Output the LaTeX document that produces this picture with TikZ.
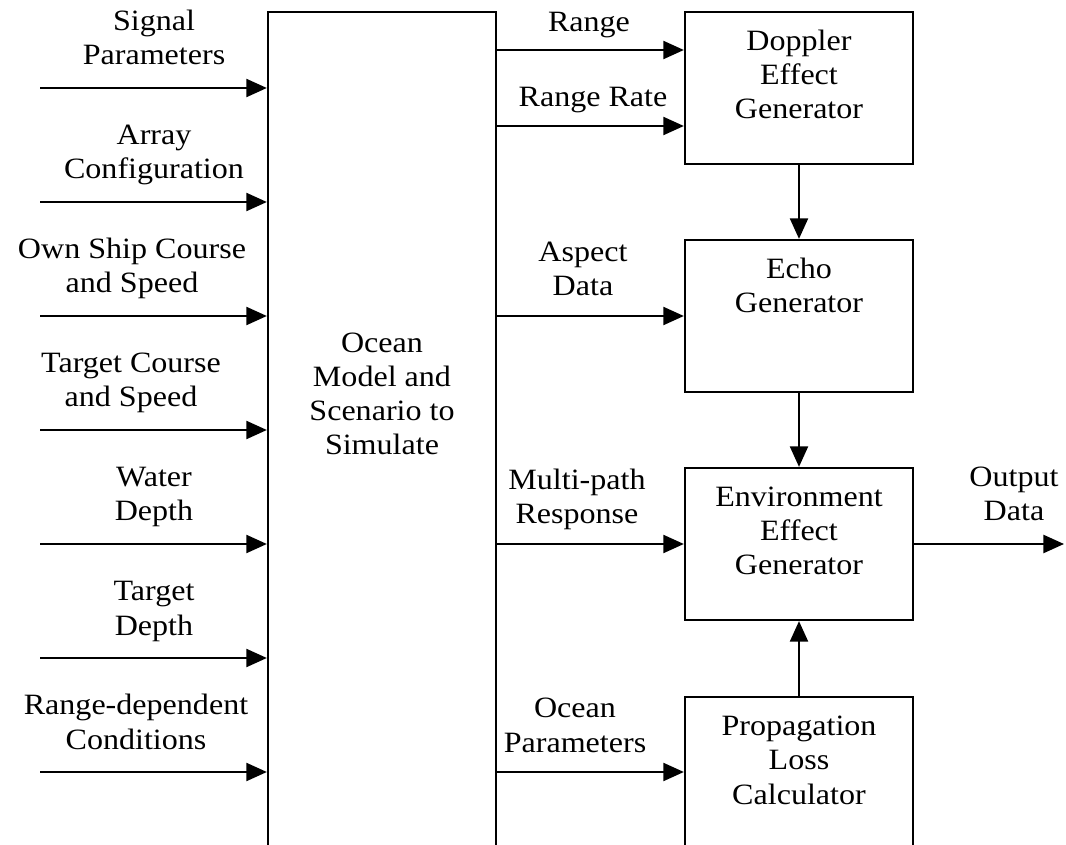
\documentclass[tikz,border=0pt]{standalone}
\usepackage{fontspec}
\setmainfont{Liberation Serif}
\usetikzlibrary{arrows.meta}

\begin{document}
\begin{tikzpicture}[x=0.0137cm, y=-0.0137cm]
    % Define styles
    \tikzstyle{block} = [rectangle, draw=black, line width=0.9pt, minimum width=3.124cm, inner sep=0pt]
    \tikzstyle{txt} = [align=center, anchor=base, inner sep=0pt, xscale=1.087, font=\fontsize{11.5}{13.3}\selectfont]
    \tikzstyle{arr} = [line width=0.9pt, -{Triangle[length=8pt, width=7pt]}]

    \useasboundingbox (0,0) rectangle (1066,845);
    \clip (0,0) rectangle (1066,845);

    % Blocks
    \node[block, minimum height=12.17cm] (model) at (382,456) {};
    \node[block, minimum height=2.082cm] (dop) at (799,88) {};
    \node[block, minimum height=2.082cm] (echo) at (799,316) {};
    \node[block, minimum height=2.082cm] (env) at (799,544) {};
    \node[block, minimum height=3.124cm] (prop) at (799,811) {};

    % Block texts
    \node[txt] (modeltxt) at (382,455) {Ocean\\Model and\\Scenario to\\Simulate};
    \node[txt] (doptxt) at (799,119) {Doppler\\Effect\\Generator};
    \node[txt] (echotxt) at (799,313) {Echo\\Generator};
    \node[txt] (envtxt) at (799,575) {Environment\\Effect\\Generator};
    \node[txt] (proptxt) at (799,804) {Propagation\\Loss\\Calculator};

    % Inputs
    \coordinate (in1) at (40,88);
    \coordinate (in2) at (40,202);
    \coordinate (in3) at (40,316);
    \coordinate (in4) at (40,430);
    \coordinate (in5) at (40,544);
    \coordinate (in6) at (40,658);
    \coordinate (in7) at (40,772);
    \draw[arr] (in1) -- (in1 -| model.west);
    \draw[arr] (in2) -- (in2 -| model.west);
    \draw[arr] (in3) -- (in3 -| model.west);
    \draw[arr] (in4) -- (in4 -| model.west);
    \draw[arr] (in5) -- (in5 -| model.west);
    \draw[arr] (in6) -- (in6 -| model.west);
    \draw[arr] (in7) -- (in7 -| model.west);

    \node[txt] (in1txt) at (154,65) {Signal\\Parameters};
    \node[txt] (in2txt) at (154,179) {Array\\Configuration};
    \node[txt] (in3txt) at (132,293) {Own Ship Course\\and Speed};
    \node[txt] (in4txt) at (131,407) {Target Course\\and Speed};
    \node[txt] (in5txt) at (154,521) {Water\\Depth};
    \node[txt] (in6txt) at (154,635) {Target\\Depth};
    \node[txt] (in7txt) at (136,749) {Range-dependent\\Conditions};

    % Model outputs
    \coordinate (rng) at (600,50);
    \coordinate (rate) at (600,126);
    \coordinate (asp) at (600,316);
    \coordinate (mp) at (600,544);
    \coordinate (ocn) at (600,772);
    \draw[arr] (model.east |- rng) -- (dop.west |- rng);
    \draw[arr] (model.east |- rate) -- (dop.west |- rate);
    \draw[arr] (model.east |- asp) -- (echo.west);
    \draw[arr] (model.east |- mp) -- (env.west);
    \draw[arr] (model.east |- ocn) -- (prop.west |- ocn);

    \node[txt] (rngtxt) at (589,32) {Range};
    \node[txt] (ratetxt) at (593,107) {Range Rate};
    \node[txt] (asptxt) at (583,296) {Aspect\\Data};
    \node[txt] (mptxt) at (577,524) {Multi-path\\Response};
    \node[txt] (ocntxt) at (575,752) {Ocean\\Parameters};

    % Chain
    \draw[arr] (dop.south) -- (echo.north);
    \draw[arr] (echo.south) -- (env.north);
    \draw[arr] (prop.north) -- (env.south);

    % Output
    \coordinate (out) at (1064,544);
    \draw[arr] (env.east) -- (out);
    \node[txt] (outtxt) at (1014,521) {Output\\Data};

\end{tikzpicture}
\end{document}
